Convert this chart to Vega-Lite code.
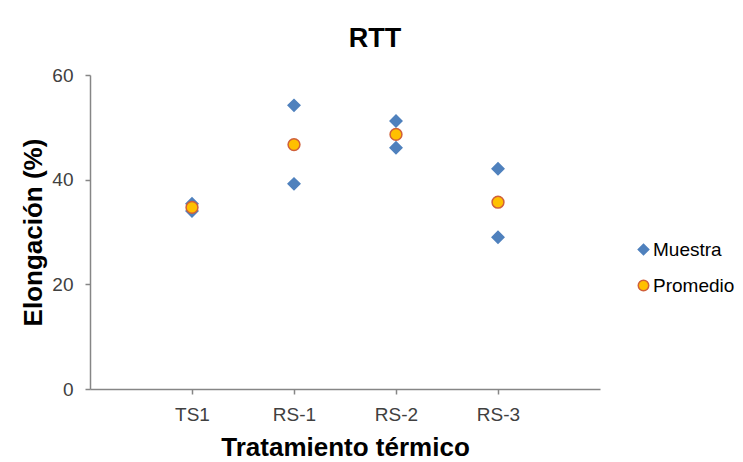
{
  "$schema": "https://vega.github.io/schema/vega-lite/v6.json",
  "autosize": {"type": "none"},
  "width": 510,
  "height": 314,
  "padding": {"left": 90, "top": 75, "right": 143, "bottom": 73},
  "background": "white",
  "title": {
    "text": "RTT",
    "font": "Liberation Sans",
    "fontSize": 27,
    "fontWeight": "bold",
    "color": "#000000",
    "anchor": "middle",
    "dx": 30,
    "offset": 13
  },
  "data": {
    "values": [
      {"tratamiento": "TS1", "serie": "Muestra", "elongacion": 34.0},
      {"tratamiento": "TS1", "serie": "Muestra", "elongacion": 35.4},
      {"tratamiento": "RS-1", "serie": "Muestra", "elongacion": 54.2},
      {"tratamiento": "RS-1", "serie": "Muestra", "elongacion": 39.2},
      {"tratamiento": "RS-2", "serie": "Muestra", "elongacion": 51.2},
      {"tratamiento": "RS-2", "serie": "Muestra", "elongacion": 46.1},
      {"tratamiento": "RS-3", "serie": "Muestra", "elongacion": 42.1},
      {"tratamiento": "RS-3", "serie": "Muestra", "elongacion": 29.0},
      {"tratamiento": "TS1", "serie": "Promedio", "elongacion": 34.7},
      {"tratamiento": "RS-1", "serie": "Promedio", "elongacion": 46.7},
      {"tratamiento": "RS-2", "serie": "Promedio", "elongacion": 48.65},
      {"tratamiento": "RS-3", "serie": "Promedio", "elongacion": 35.7}
    ]
  },
  "mark": {"type": "point", "filled": true, "opacity": 1, "strokeWidth": 1.5, "size": 140},
  "encoding": {
    "x": {
      "field": "tratamiento",
      "type": "nominal",
      "sort": ["TS1", "RS-1", "RS-2", "RS-3"],
      "scale": {"type": "point", "padding": 1},
      "axis": {
        "title": "Tratamiento térmico",
        "labelAngle": 0,
        "labelFont": "Liberation Sans",
        "labelFontSize": 19,
        "labelColor": "#404040",
        "labelPadding": 11,
        "titleFont": "Liberation Sans",
        "titleFontSize": 26,
        "titleFontWeight": "bold",
        "titleColor": "#000000",
        "titlePadding": 10,
        "domainColor": "#868686",
        "domainWidth": 1.5,
        "tickColor": "#868686",
        "tickSize": 5,
        "tickWidth": 1.5,
        "grid": false
      }
    },
    "y": {
      "field": "elongacion",
      "type": "quantitative",
      "scale": {"domain": [0, 60], "nice": false, "zero": true},
      "axis": {
        "title": "Elongación (%)",
        "values": [0, 20, 40, 60],
        "labelFont": "Liberation Sans",
        "labelFontSize": 19,
        "labelColor": "#404040",
        "labelPadding": 12,
        "titleFont": "Liberation Sans",
        "titleFontSize": 26,
        "titleFontWeight": "bold",
        "titleColor": "#000000",
        "titlePadding": 5,
        "domainColor": "#868686",
        "domainWidth": 1.5,
        "tickColor": "#868686",
        "tickSize": 5,
        "tickWidth": 1.5,
        "grid": false
      }
    },
    "shape": {
      "field": "serie",
      "type": "nominal",
      "scale": {"domain": ["Muestra", "Promedio"], "range": ["diamond", "circle"]},
      "legend": {"title": null, "orient": "none", "legendX": 544, "legendY": 165}
    },
    "fill": {
      "field": "serie",
      "type": "nominal",
      "scale": {"domain": ["Muestra", "Promedio"], "range": ["#4F81BD", "#FFC000"]},
      "legend": {"title": null, "orient": "none", "legendX": 544, "legendY": 165}
    },
    "stroke": {
      "field": "serie",
      "type": "nominal",
      "scale": {"domain": ["Muestra", "Promedio"], "range": ["#4F81BD", "#D0603A"]},
      "legend": {"title": null, "orient": "none", "legendX": 544, "legendY": 165}
    }
  },
  "config": {
    "view": {"stroke": null},
    "font": "Liberation Sans",
    "legend": {
      "labelFont": "Liberation Sans",
      "labelFontSize": 19,
      "labelColor": "#000000",
      "labelOffset": 0,
      "symbolSize": 110,
      "symbolStrokeWidth": 1.5,
      "rowPadding": 16
    }
  }
}
